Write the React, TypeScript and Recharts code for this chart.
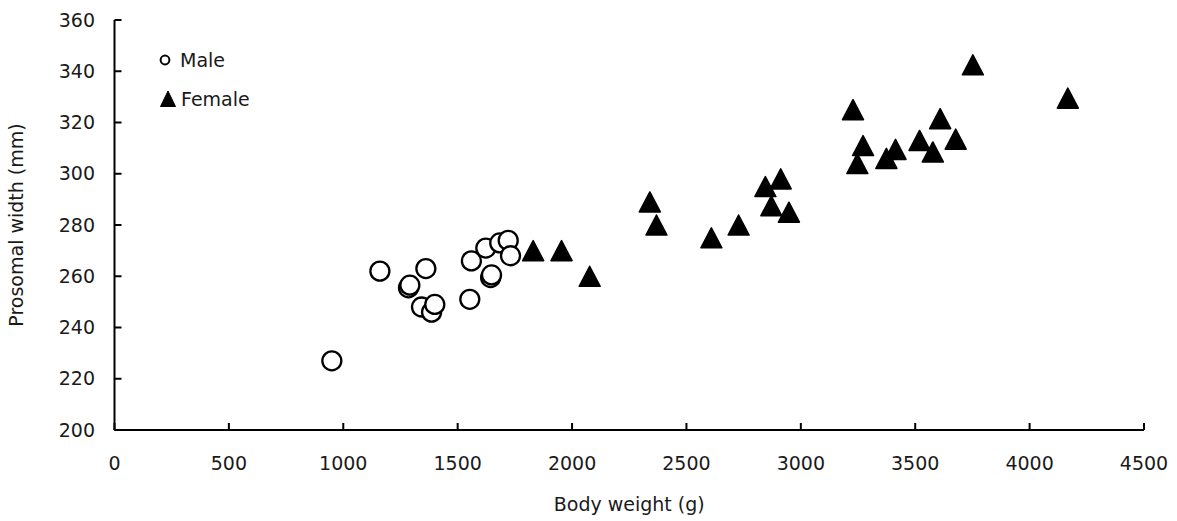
import { ScatterChart, Scatter, XAxis, YAxis, Legend, Label } from "recharts";

// body weight (g) and prosomal width (mm)
const MALE_WEIGHT = [950, 1160, 1285, 1291, 1342, 1361, 1386, 1400, 1553, 1560, 1623, 1644, 1648, 1684, 1721, 1731];
const MALE_WIDTH = [227, 262, 255.5, 256.5, 248, 263, 246, 249, 251, 266, 271, 259.5, 260.5, 273, 274, 268];

const FEMALE_WEIGHT = [1830, 1954, 2077, 2340, 2369, 2609, 2728, 2845, 2871, 2912, 2948, 3228, 3247, 3272, 3374, 3414, 3519, 3577, 3609, 3677, 3752, 4167];
const FEMALE_WIDTH = [270, 270, 260, 289, 280, 275, 280, 295, 287.5, 298, 285, 325, 304, 311, 306, 309.5, 313, 308.5, 321.5, 313.5, 342.5, 329.5];

const X_TICKS = [0, 500, 1000, 1500, 2000, 2500, 3000, 3500, 4000, 4500];
const Y_TICKS = [200, 220, 240, 260, 280, 300, 320, 340, 360];

const male = MALE_WEIGHT.map((x, i) => ({ x, y: MALE_WIDTH[i] }));
const female = FEMALE_WEIGHT.map((x, i) => ({ x, y: FEMALE_WIDTH[i] }));

const FONT = "'DejaVu Sans', sans-serif";
const TEXT = "#1a1a1a";

function Circle(props: any) {
  return <circle cx={props.cx} cy={props.cy} r={9.5} fill="#fff" stroke="#000" strokeWidth={2.3} />;
}

function Triangle(props: any) {
  const { cx, cy } = props;
  const d = `M${cx},${cy - 10} L${cx + 10.5},${cy + 10} L${cx - 10.5},${cy + 10} Z`;
  return <path d={d} fill="#000" stroke="#000" strokeWidth={1.5} strokeLinejoin="round" />;
}

function LegendBox() {
  return (
    <div style={{ fontFamily: FONT, fontSize: 19, color: TEXT }}>
      <div style={{ display: "flex", alignItems: "center", height: 39.6 }}>
        <svg width={20} height={20}>
          <circle cx={7} cy={10} r={4.4} fill="#fff" stroke="#000" strokeWidth={2} />
        </svg>
        <span style={{ marginLeft: 2 }}>Male</span>
      </div>
      <div style={{ display: "flex", alignItems: "center", height: 39.6 }}>
        <svg width={20} height={20}>
          <path d="M10,2 L17.5,17.5 L2.5,17.5 Z" fill="#000" stroke="#000" strokeWidth={1} strokeLinejoin="round" />
        </svg>
        <span style={{ marginLeft: 3 }}>Female</span>
      </div>
    </div>
  );
}

export default function App() {
  return (
    <div style={{ position: "absolute", left: 0, top: 0 }}>
      <ScatterChart
        width={1177}
        height={521}
        margin={{ top: 20, right: 33, bottom: 41, left: 0 }}
        style={{ fontFamily: FONT, background: "#fff" }}
      >
        <XAxis
          type="number"
          dataKey="x"
          domain={[0, 4500]}
          ticks={X_TICKS}
          height={50}
          tickSize={-7}
          tickMargin={34}
          axisLine={{ stroke: "#000", strokeWidth: 2 }}
          tickLine={{ stroke: "#000", strokeWidth: 2 }}
          tick={{ fill: TEXT, fontSize: 19 }}
        >
          <Label value="Body weight (g)" position="bottom" offset={18} fill={TEXT} fontSize={19} />
        </XAxis>
        <YAxis
          type="number"
          dataKey="y"
          domain={[200, 360]}
          ticks={Y_TICKS}
          width={114.5}
          tickSize={-7}
          tickMargin={26.5}
          axisLine={{ stroke: "#000", strokeWidth: 2 }}
          tickLine={{ stroke: "#000", strokeWidth: 2 }}
          tick={{ fill: TEXT, fontSize: 19 }}
        >
          <Label
            value="Prosomal width (mm)"
            angle={-90}
            position="insideLeft"
            offset={16}
            fill={TEXT}
            fontSize={19}
            style={{ textAnchor: "middle" }}
          />
        </YAxis>
        <Legend
          layout="vertical"
          align="center"
          verticalAlign="middle"
          wrapperStyle={{ left: 158, top: 40, width: 200, height: "auto" }}
          content={() => <LegendBox />}
        />
        <Scatter name="Male" data={male} shape={<Circle />} isAnimationActive={false} />
        <Scatter name="Female" data={female} shape={<Triangle />} isAnimationActive={false} />
      </ScatterChart>
    </div>
  );
}
